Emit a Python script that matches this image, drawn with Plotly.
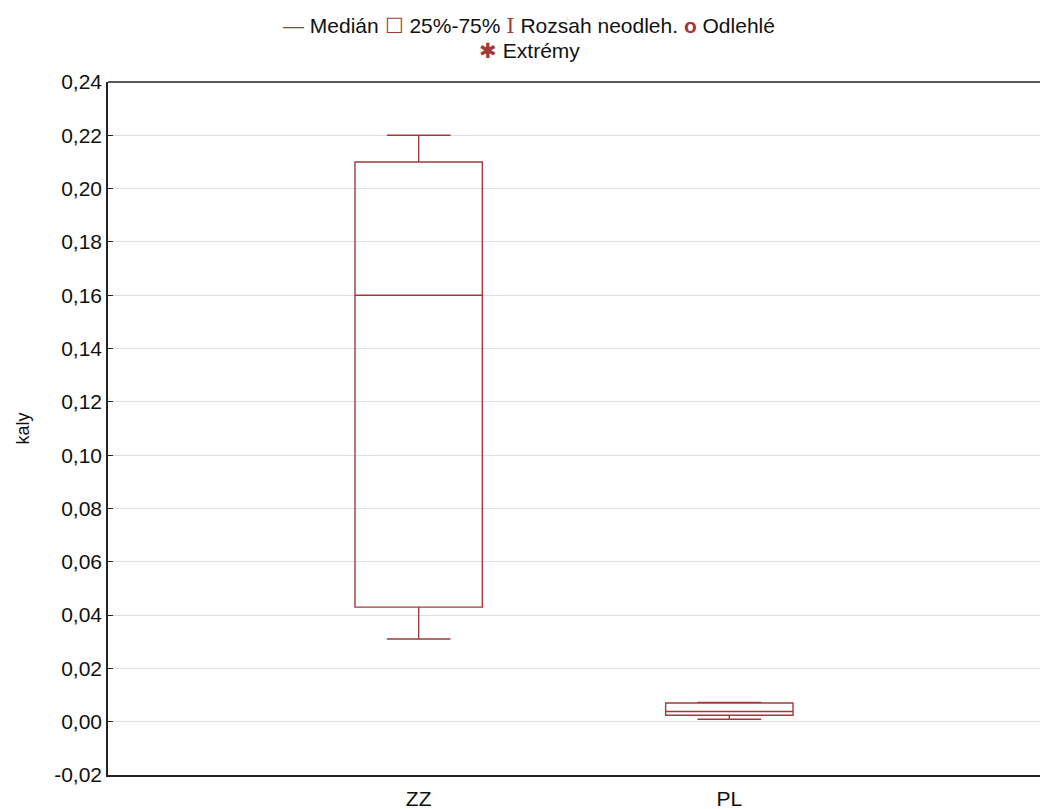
import plotly.graph_objects as go

categories = ["ZZ", "PL"]
q1 = [0.043, 0.0024]
median = [0.160, 0.0038]
q3 = [0.210, 0.0070]
lower = [0.031, 0.0009]
upper = [0.220, 0.0072]

y_ticks = [-0.02, 0.00, 0.02, 0.04, 0.06, 0.08, 0.10, 0.12, 0.14, 0.16, 0.18, 0.20, 0.22, 0.24]
y_ticktext = [f"{v:.2f}".replace(".", ",") for v in y_ticks]

col = "#A3393B"
fig = go.Figure()
for i, c in enumerate(categories):
    fig.add_trace(go.Box(
        x=[c], q1=[q1[i]], median=[median[i]], q3=[q3[i]],
        lowerfence=[lower[i]], upperfence=[upper[i]],
        fillcolor="rgba(0,0,0,0)", line=dict(color=col, width=1.4),
        width=0.41, whiskerwidth=0.5, boxpoints=False, showlegend=False,
        hoverinfo="skip",
    ))

fig.update_layout(
    width=1040, height=809,
    margin=dict(l=108, r=0, t=82, b=34),
    paper_bgcolor="white", plot_bgcolor="white",
    font=dict(family="Liberation Sans, Arial, sans-serif", size=16, color="#111"),
    showlegend=False,
    xaxis=dict(type="category", categoryarray=categories, range=[-1, 2],
               showgrid=False, showline=True, linecolor="#222", linewidth=1.5,
               ticks="outside", ticklen=4, tickcolor="rgba(0,0,0,0)",
               mirror=False, zeroline=False,
               tickfont=dict(size=21)),
    yaxis=dict(range=[-0.02, 0.24], tickvals=y_ticks, ticktext=y_ticktext,
               showgrid=True, gridcolor="#DDDDDD", gridwidth=1,
               showline=True, linecolor="#222", linewidth=1.5,
               ticks="inside", ticklen=5, tickcolor="#222", zeroline=False,
               title=dict(text="kaly", standoff=20, font=dict(size=18)),
               tickfont=dict(size=21)),
)
# top frame
fig.add_shape(type="line", xref="paper", yref="paper", x0=0, x1=1, y0=1, y1=1,
              line=dict(color="#222", width=1.5))

s = lambda t: f"<span style='color:{col}'>{t}</span>"
fig.add_annotation(
    xref="paper", yref="paper", x=0.452, y=1.0, yanchor="bottom", yshift=42, showarrow=False,
    text=(s("—") + " Medián " + s("☐") + " 25%-75% "
          + "<span style='color:" + col + ";font-family:DejaVu Serif'>I</span> Rozsah neodleh. "
          + s("<b>o</b>") + " Odlehlé"),
    font=dict(size=21, color="#111"), xanchor="center",
)
fig.add_annotation(
    xref="paper", yref="paper", x=0.452, y=1.0, yanchor="bottom", yshift=18, showarrow=False,
    text=s("✱") + " Extrémy", font=dict(size=21, color="#111"), xanchor="center",
)

fig.write_html("out.html")
